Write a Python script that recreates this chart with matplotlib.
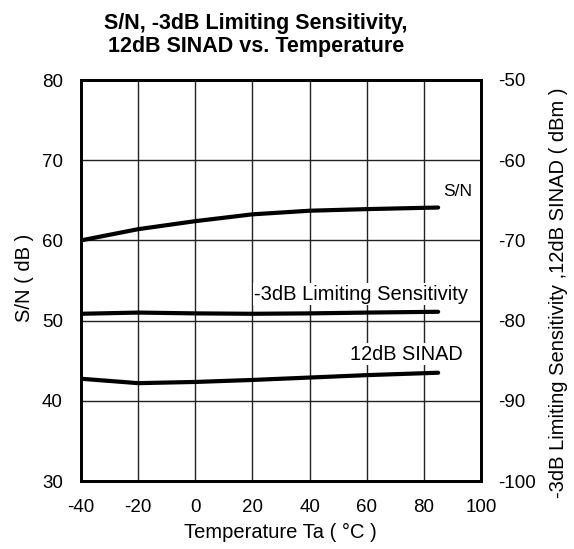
import matplotlib
matplotlib.use("Agg")
import matplotlib.pyplot as plt

plt.rcParams['font.family'] = ['Liberation Sans', 'DejaVu Sans']
plt.rcParams['axes.unicode_minus'] = False

# Temperatura (°C)
temp = [-40, -20, 0, 20, 40, 60, 85]
# S/N (dB) - lewa oś
sn = [60.0, 61.4, 62.4, 63.25, 63.7, 63.9, 64.1]
# czułość (dBm) - prawa oś
lim_sens = [-79.15, -79.0, -79.1, -79.15, -79.1, -79.0, -78.9]
sinad = [-87.25, -87.8, -87.65, -87.4, -87.1, -86.8, -86.5]

xticks = [-40, -20, 0, 20, 40, 60, 80, 100]
yticks_l = [30, 40, 50, 60, 70, 80]
yticks_r = [-100, -90, -80, -70, -60, -50]

W, H = 574, 549
fig = plt.figure(figsize=(W / 100, H / 100), dpi=100)
ax = fig.add_axes([81 / W, 1 - 481 / H, 400 / W, 401 / H])
ax2 = ax.twinx()

ax.set_xlim(-40, 100)
ax.set_ylim(30, 80)
ax2.set_ylim(-100, -50)
ax.set_xticks(xticks)
ax.set_yticks(yticks_l)
ax2.set_yticks(yticks_r)

ax.grid(True, color='#222222', linewidth=1.0)
ax.set_axisbelow(True)
ax.tick_params(length=0, labelsize=13.5, pad=13)
ax2.tick_params(length=0, labelsize=13.5, pad=12)
for a in (ax, ax2):
    for s in a.spines.values():
        s.set_linewidth(2)

# Krzywe
ax.plot(temp, sn, color='black', linewidth=3, solid_capstyle='round')
ax2.plot(temp, lim_sens, color='black', linewidth=3, solid_capstyle='round')
ax2.plot(temp, sinad, color='black', linewidth=3, solid_capstyle='round')


def label(px, py, txt, size, **kw):
    # pozycja w pikselach obrazu (od lewego górnego rogu)
    return fig.text(px / W, 1 - py / H, txt, fontsize=size, ha='center', va='center', **kw)


box = dict(facecolor='white', edgecolor='none', pad=1)
label(458, 191, "S/N", 12.5, bbox=box)
label(361, 294, "-3dB Limiting Sensitivity", 14.5, bbox=box)
label(406, 354, "12dB SINAD", 14.3, bbox=box)

label(280, 532, "Temperature Ta ( °C )", 14.5)
label(25, 278, "S/N ( dB )", 14.5, rotation=90)
label(559, 293, "-3dB Limiting Sensitivity ,12dB SINAD ( dBm )", 14.5, rotation=90)

label(256, 35, "S/N, -3dB Limiting Sensitivity,\n12dB SINAD vs. Temperature",
      15.5, fontweight='bold', linespacing=1.15)

fig.savefig("out.png", dpi=100)
